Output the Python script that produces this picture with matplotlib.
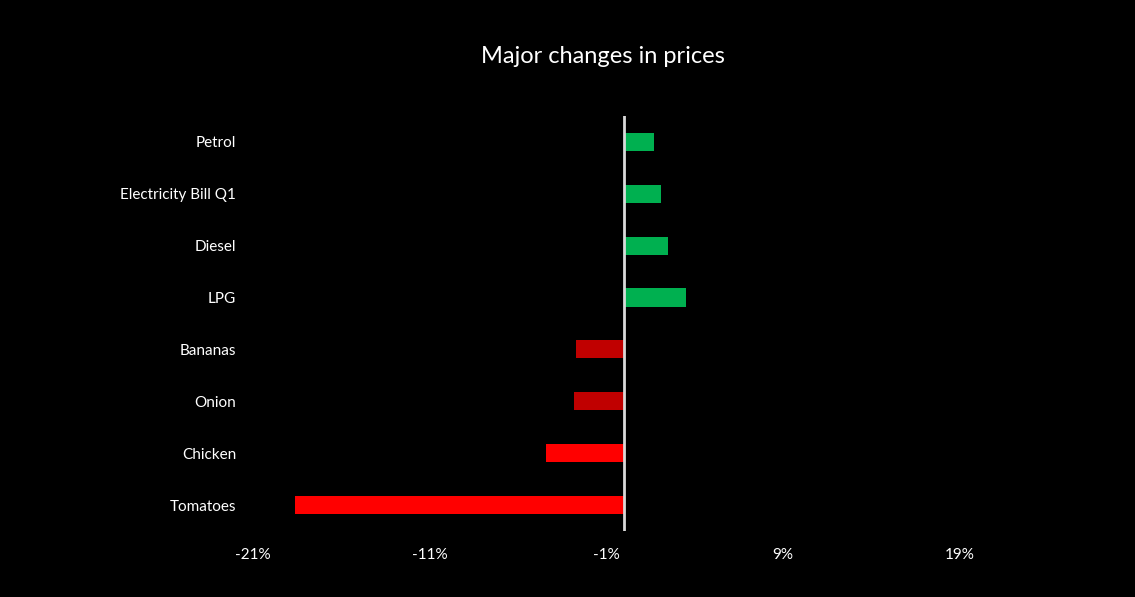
import matplotlib.pyplot as plt
import numpy as np

plt.rcParams['font.family'] = ['Lato', 'DejaVu Sans']

# Datos (cambio de precio en %)
categorias = ['Petrol', 'Electricity Bill Q1', 'Diesel', 'LPG',
              'Bananas', 'Onion', 'Chicken', 'Tomatoes']
cambios = [1.7, 2.1, 2.5, 3.5, -2.75, -2.85, -4.45, -18.6]
colores = ['#00B050', '#00B050', '#00B050', '#00B050',
           '#C00000', '#C00000', '#FF0000', '#FF0000']
ticks_x = [-21, -11, -1, 9, 19]

fig = plt.figure(figsize=(11.35, 5.97), dpi=100, facecolor='black')
ax = fig.add_axes([0.2229, 0.1106, 0.6229, 0.6951], facecolor='black')

y = np.arange(len(categorias))
ax.barh(y, cambios, height=0.35, color=colores)

ax.set_ylim(len(categorias) - 0.5, -0.5)
ax.set_xlim(-21, 19)
ax.axvline(0, color='#D9D9D9', linewidth=2)

ax.set_yticks(y)
ax.set_yticklabels(categorias)
ax.set_xticks(ticks_x)
ax.set_xticklabels([f'{t}%' for t in ticks_x])
ax.tick_params(axis='both', length=0, colors='white', labelsize=11)
ax.tick_params(axis='y', pad=12)
ax.tick_params(axis='x', pad=12)

for s in ax.spines.values():
    s.set_visible(False)

fig.text(0.531, 0.905, 'Major changes in prices', color='white',
         fontsize=17, ha='center', va='center')

fig.savefig('out.png', facecolor='black')
